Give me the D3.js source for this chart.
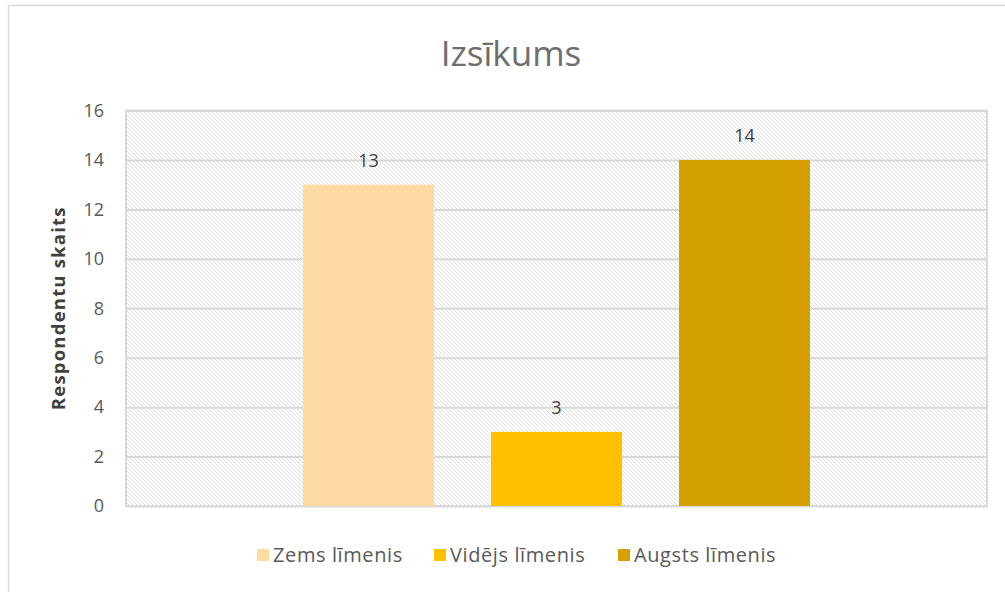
<!DOCTYPE html>
<html><head><meta charset="utf-8">
<script src="https://cdn.jsdelivr.net/npm/d3@7"></script>
<style>html,body{margin:0;padding:0;background:#fff;}svg{display:block;}</style>
</head><body>
<svg id="c" width="1005" height="592"></svg>
<script>
const title = "Izsīkums";
const yTitle = "Respondentu skaits";
const series = ["Zems līmenis", "Vidējs līmenis", "Augsts līmenis"];
const values = [13, 3, 14];
const colors = ["#FFDAA3", "#FFC000", "#D4A100"];
const yTicks = [0, 2, 4, 6, 8, 10, 12, 14, 16];

const svg = d3.select("#c");
const font = "'Open Sans', sans-serif";
const W = 1005, H = 592;
const plot = {l: 126, r: 987, t: 110.5, b: 506};

// outer chart border
svg.append("rect").attr("x", 8.5).attr("y", 5.5).attr("width", W).attr("height", H)
  .attr("fill", "#fff").attr("stroke", "#d9d9d9").attr("stroke-width", 1.5);

// hatch pattern
const defs = svg.append("defs");
const pat = defs.append("pattern").attr("id", "hatch").attr("patternUnits", "userSpaceOnUse")
  .attr("width", 4).attr("height", 4);
pat.append("rect").attr("width", 4).attr("height", 4).attr("fill", "#fff");
pat.append("path").attr("d", "M-1,-1 L5,5 M-1,3 L1,5 M3,-1 L5,1")
  .attr("stroke", "#dedede").attr("stroke-width", 1);

svg.append("rect").attr("x", plot.l).attr("y", plot.t).attr("width", plot.r - plot.l)
  .attr("height", plot.b - plot.t).attr("fill", "url(#hatch)");

const y = d3.scaleLinear().domain([0, 16]).range([plot.b, plot.t]);

// gridlines
svg.append("g").attr("transform", `translate(${plot.l},0)`)
  .call(d3.axisLeft(y).tickValues(yTicks).tickSize(-(plot.r - plot.l)).tickFormat(""))
  .call(g => g.select(".domain").remove())
  .call(g => g.selectAll("line").attr("stroke", "#d9d9d9").attr("stroke-width", 2));

// plot border
svg.append("rect").attr("x", plot.l).attr("y", plot.t).attr("width", plot.r - plot.l)
  .attr("height", plot.b - plot.t).attr("fill", "none").attr("stroke", "#d9d9d9").attr("stroke-width", 2);

// tick labels
svg.append("g").attr("transform", `translate(${plot.l},0)`)
  .call(d3.axisLeft(y).tickValues(yTicks).tickSize(0).tickPadding(22))
  .call(g => g.select(".domain").remove())
  .call(g => g.selectAll("text").attr("fill", "#595959").attr("font-size", 18).attr("font-family", font));

// bars
const x = d3.scaleBand().domain(series).range([plot.l + 177, plot.r - 177]).paddingInner(0.303).paddingOuter(0);
svg.append("g").selectAll("rect").data(series).join("rect")
  .attr("x", d => x(d)).attr("width", x.bandwidth())
  .attr("y", (d, i) => y(values[i])).attr("height", (d, i) => plot.b - y(values[i]))
  .attr("fill", (d, i) => colors[i]);

// value labels
svg.append("g").selectAll("text").data(series).join("text")
  .attr("x", d => x(d) + x.bandwidth() / 2).attr("y", (d, i) => y(values[i]) - 18)
  .attr("text-anchor", "middle").attr("font-family", font).attr("font-size", 18)
  .attr("fill", "#404040").text((d, i) => values[i]);

// title
svg.append("text").attr("x", 511).attr("y", 66).attr("text-anchor", "middle")
  .attr("font-family", font).attr("font-size", 35).attr("fill", "#6e6e6e").text(title);

// y axis title
svg.append("text").attr("transform", `translate(65,${(plot.t + plot.b) / 2}) rotate(-90)`)
  .attr("text-anchor", "middle").attr("font-family", font).attr("font-size", 18.5)
  .attr("letter-spacing", 1.2)
  .attr("font-weight", "bold").attr("fill", "#404040").text(yTitle);

// legend
const leg = svg.append("g");
const starts = [257, 434, 618];
series.forEach((s, i) => {
  leg.append("rect").attr("x", starts[i]).attr("y", 549).attr("width", 12).attr("height", 12).attr("fill", colors[i]);
  leg.append("text").attr("x", starts[i] + 16).attr("y", 562).attr("font-family", font)
    .attr("font-size", 20).attr("letter-spacing", 0.6).attr("fill", "#595959").text(s);
});
</script>
</body></html>
